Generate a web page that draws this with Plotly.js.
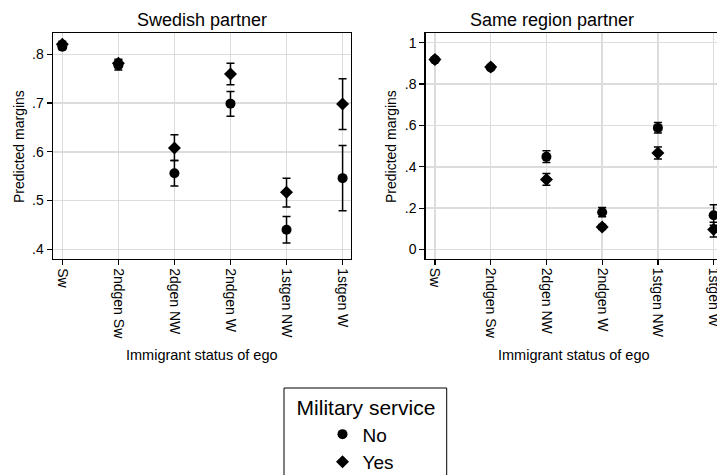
<!DOCTYPE html>
<html>
<head>
<meta charset="utf-8">
<script src="https://cdn.plot.ly/plotly-3.0.1.min.js"></script>
<style>
html, body { margin: 0; padding: 0; overflow: hidden; background: #fff; }
#chart { width: 740px; height: 500px; }
</style>
</head>
<body>
<div id="chart"></div>
<script>
// ---- Data ----
const categories = ["Sw", "2ndgen Sw", "2dgen NW", "2ndgen W", "1stgen NW", "1stgen W"];

// Swedish partner
const swNo      = [0.816, 0.778, 0.556, 0.699, 0.440, 0.546];
const swNoLo    = [0.810, 0.768, 0.530, 0.673, 0.413, 0.479];
const swNoHi    = [0.822, 0.788, 0.582, 0.724, 0.467, 0.613];
const swYes     = [0.821, 0.782, 0.608, 0.760, 0.517, 0.698];
const swYesLo   = [0.815, 0.774, 0.582, 0.738, 0.487, 0.646];
const swYesHi   = [0.827, 0.790, 0.635, 0.782, 0.546, 0.750];

// Same region partner
const srNo      = [0.918, 0.880, 0.448, 0.180, 0.588, 0.166];
const srNoLo    = [0.912, 0.872, 0.421, 0.158, 0.564, 0.117];
const srNoHi    = [0.924, 0.888, 0.477, 0.203, 0.614, 0.216];
const srYes     = [0.919, 0.882, 0.339, 0.109, 0.467, 0.097];
const srYesLo   = [0.913, 0.874, 0.311, 0.097, 0.438, 0.061];
const srYesHi   = [0.925, 0.890, 0.368, 0.121, 0.496, 0.132];

const leftTickVals  = [0.4, 0.5, 0.6, 0.7, 0.8];
const leftTickText  = [".4", ".5", ".6", ".7", ".8"];
const rightTickVals = [0, 0.2, 0.4, 0.6, 0.8, 1];
const rightTickText = ["0", ".2", ".4", ".6", ".8", "1"];

const panelTitles = ["Swedish partner", "Same region partner"];
const yTitle = "Predicted margins";
const xTitle = "Immigrant status of ego";
const legendTitle = "Military service";
const seriesNames = ["No", "Yes"];

// ---- Layout helpers ----
const W = 740, H = 500;
const px = v => v / W;
const py = v => 1 - v / H;
const FONT = "Liberation Sans, Arial, sans-serif";

function errs(vals, lo, hi) {
  return {
    type: "data", symmetric: false,
    array: hi.map((h, i) => h - vals[i]),
    arrayminus: vals.map((v, i) => v - lo[i]),
    color: "#000", thickness: 1.5, width: 4
  };
}

function trace(vals, lo, hi, name, symbol, xa, ya, show) {
  return {
    type: "scatter", mode: "markers",
    x: categories, y: vals, name: name,
    xaxis: xa, yaxis: ya, showlegend: show, legendgroup: name,
    marker: { symbol: symbol, size: 10, color: "#000", line: { width: 0 } },
    error_y: errs(vals, lo, hi),
    hoverinfo: "x+y"
  };
}

const data = [
  trace(swNo,  swNoLo,  swNoHi,  seriesNames[0], "circle",  "x",  "y",  true),
  trace(swYes, swYesLo, swYesHi, seriesNames[1], "diamond", "x",  "y",  true),
  trace(srNo,  srNoLo,  srNoHi,  seriesNames[0], "circle",  "x2", "y2", false),
  trace(srYes, srYesLo, srYesHi, seriesNames[1], "diamond", "x2", "y2", false)
];

function xaxis(domain, anchor) {
  return {
    domain: domain, anchor: anchor, type: "category",
    range: [-0.166, 5.15],
    tickangle: 90, ticks: "outside", ticklen: 5, tickwidth: 1.3, tickcolor: "#000",
    showline: true, linecolor: "#000", linewidth: 1.4, mirror: true,
    showgrid: true, gridcolor: "#dcdcdc", gridwidth: 1.5,
    zeroline: false,
    tickfont: { family: FONT, size: 14, color: "#000" }
  };
}
function yaxis(domain, anchor, range, tv, tt) {
  return {
    domain: domain, anchor: anchor, range: range,
    tickmode: "array", tickvals: tv, ticktext: tt,
    ticks: "outside", ticklen: 5, tickwidth: 1.3, tickcolor: "#000",
    showline: true, linecolor: "#000", linewidth: 1.4, mirror: true,
    showgrid: true, gridcolor: "#dcdcdc", gridwidth: 1.5,
    zeroline: false,
    tickfont: { family: FONT, size: 14, color: "#000" }
  };
}

function ann(text, x, y, size, angle) {
  return {
    text: text, xref: "paper", yref: "paper", x: px(x), y: py(y),
    xanchor: "center", yanchor: "middle", showarrow: false,
    textangle: angle || 0,
    font: { family: FONT, size: size, color: "#000" }
  };
}

const layout = {
  width: W, height: H,
  margin: { l: 0, r: 0, t: 0, b: 0 },
  paper_bgcolor: "#fff", plot_bgcolor: "#fff",
  font: { family: FONT, color: "#000" },
  xaxis:  xaxis([px(53), px(351)], "y"),
  yaxis:  yaxis([py(259), py(33)], "x", [0.38, 0.844], leftTickVals, leftTickText),
  xaxis2: xaxis([px(425.7), px(722)], "y2"),
  yaxis2: yaxis([py(258.5), py(33)], "x2", [-0.0435, 1.047], rightTickVals, rightTickText),
  annotations: [
    ann(panelTitles[0], 202, 20, 18),
    ann(panelTitles[1], 552, 20, 18),
    ann(yTitle, 19, 147, 14, -90),
    ann(yTitle, 391, 147, 14, -90),
    ann(xTitle, 202, 355, 14.5),
    ann(xTitle, 574, 355, 14.5)
  ],
  shapes: [
    { type: "rect", xref: "paper", yref: "paper", layer: "above",
      x0: px(284), x1: px(446.7), y0: py(388), y1: py(499),
      line: { color: "#000", width: 1 }, fillcolor: "rgba(0,0,0,0)" }
  ],
  showlegend: true,
  legend: {
    x: px(366), y: py(388), xanchor: "center", yanchor: "top",
    bgcolor: "rgba(0,0,0,0)", borderwidth: 0,
    font: { family: FONT, size: 19, color: "#000" },
    title: { text: legendTitle, side: "top center", font: { family: FONT, size: 21, color: "#000" } },
    indentation: 28,
    tracegroupgap: 0
  }
};

Plotly.newPlot("chart", data, layout, { staticPlot: true, displayModeBar: false });
</script>
</body>
</html>
